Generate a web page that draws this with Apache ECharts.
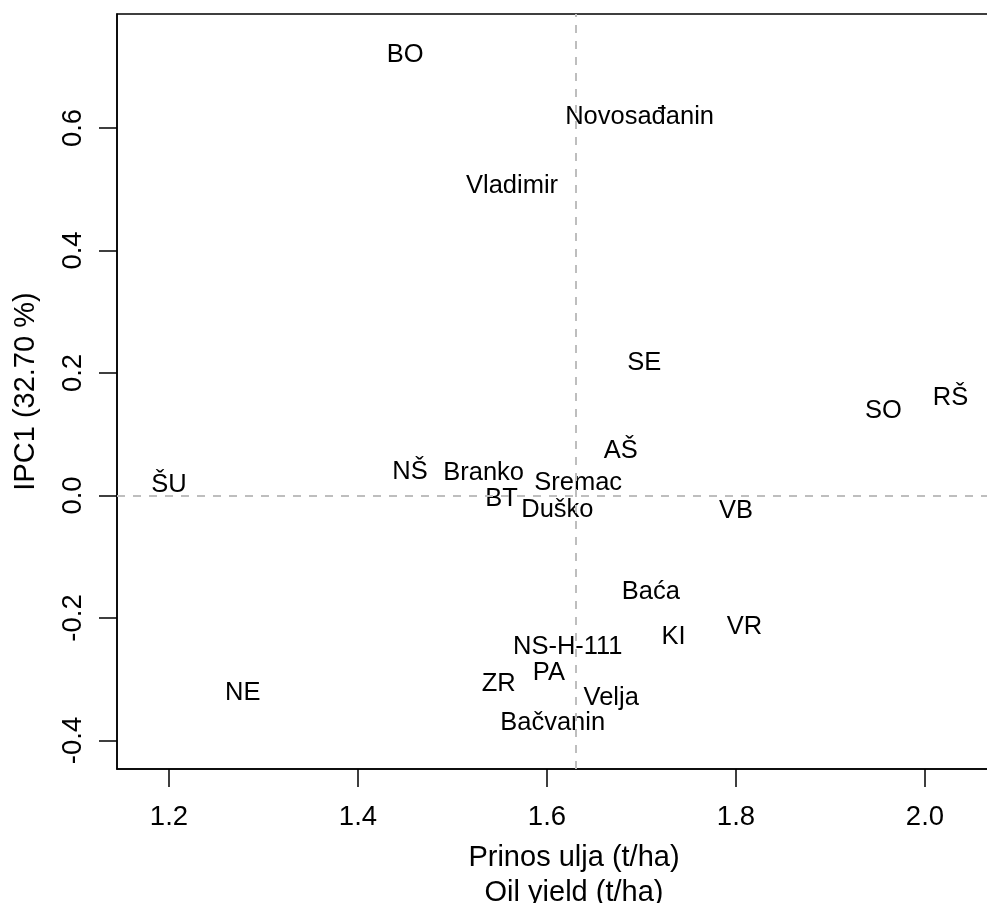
<!DOCTYPE html>
<html>
<head>
<meta charset="utf-8">
<script src="https://cdn.jsdelivr.net/npm/echarts@6/dist/echarts.min.js"></script>
<style>
html,body{margin:0;padding:0;background:#fff;}
#chart{width:987px;height:903px;}
</style>
</head>
<body>
<div id="chart"></div>
<script>
// Genotype labels and their coordinates (oil yield, IPC1)
var names = ["BO","Novosađanin","Vladimir","SE","SO","RŠ","ŠU","NŠ","Branko","AŠ","Sremac","BT","Duško","VB","Baća","VR","KI","NS-H-111","NE","PA","ZR","Velja","Bačvanin"];
var oilYield = [1.450,1.698,1.563,1.703,1.956,2.027,1.200,1.455,1.533,1.678,1.633,1.552,1.611,1.800,1.710,1.809,1.734,1.622,1.278,1.602,1.549,1.668,1.606];
var ipc1 = [0.720,0.618,0.506,0.217,0.138,0.159,0.017,0.038,0.037,0.073,0.020,-0.006,-0.024,-0.025,-0.158,-0.214,-0.231,-0.247,-0.322,-0.289,-0.308,-0.330,-0.371];
var xTicks = [1.2,1.4,1.6,1.8,2.0];
var yTicks = [-0.4,-0.2,0.0,0.2,0.4,0.6];
var refX = 1.63;   // vertical dashed reference line
var refY = 0.0;    // horizontal dashed reference line

var FONT = "'Liberation Sans', Arial, Helvetica, sans-serif";
var pts = names.map(function(n,i){ return {name:n, value:[oilYield[i], ipc1[i]]}; });

var chart = echarts.init(document.getElementById('chart'), null, {renderer:'canvas'});
chart.setOption({
  animation:false,
  backgroundColor:'#fff',
  grid:{left:117, top:14, width:914, height:755, show:true, borderColor:'#000', borderWidth:1.5, backgroundColor:'transparent', containLabel:false, outerBoundsMode:'none'},
  xAxis:{
    type:'value', min:1.145, max:2.1122,
    name:'Prinos ulja (t/ha)\nOil yield (t/ha)', nameLocation:'middle', nameGap:72,
    nameTextStyle:{fontSize:29, lineHeight:34.5, color:'#000', fontFamily:FONT},
    axisLine:{show:true, onZero:false, lineStyle:{color:'#000', width:1.5}},
    axisTick:{show:true, length:18, customValues:xTicks, lineStyle:{color:'#000', width:1.5}},
    axisLabel:{show:true, customValues:xTicks, margin:34, fontSize:27.5, color:'#000', fontFamily:FONT,
      formatter:function(v){return v.toFixed(1);}},
    splitLine:{show:false}
  },
  yAxis:{
    type:'value', min:-0.4465, max:0.7861,
    name:'IPC1 (32.70 %)', nameLocation:'middle', nameGap:77, nameRotate:90,
    nameTextStyle:{fontSize:29, color:'#000', fontFamily:FONT},
    axisLine:{show:true, onZero:false, lineStyle:{color:'#000', width:1.5}},
    axisTick:{show:true, length:18, customValues:yTicks, lineStyle:{color:'#000', width:1.5}},
    axisLabel:{show:true, customValues:yTicks, rotate:90, margin:30, fontSize:27.5, color:'#000', fontFamily:FONT,
      formatter:function(v){return v.toFixed(1);}},
    splitLine:{show:false}
  },
  series:[{
    type:'scatter',
    data:pts,
    symbolSize:1,
    itemStyle:{color:'#000', opacity:0},
    label:{show:true, position:'inside', offset:[0,1.5], formatter:'{b}', color:'#000', opacity:1, fontSize:25.5, fontFamily:FONT, textBorderWidth:0},
    labelLayout:{hideOverlap:false},
    markLine:{
      silent:true, symbol:['none','none'], label:{show:false},
      lineStyle:{type:[8,8], color:'#bebebe', width:2, opacity:1},
      data:[{xAxis:refX},{yAxis:refY}]
    }
  }]
});
</script>
</body>
</html>
